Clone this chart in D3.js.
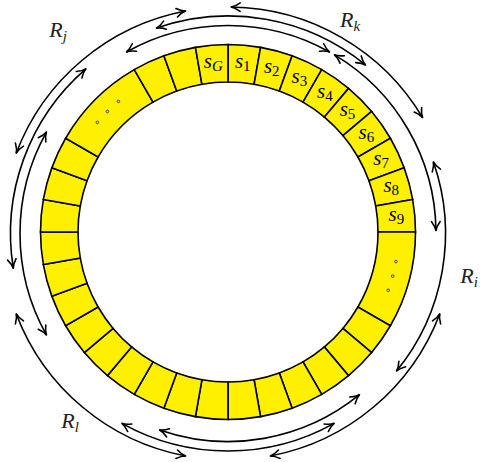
<!DOCTYPE html>
<html><head><meta charset="utf-8">
<script src="https://cdn.jsdelivr.net/npm/d3@7"></script>
<style>html,body{margin:0;padding:0;background:#fff;} svg{display:block;}</style>
</head><body>
<script>
// ---------------- data ----------------
const slotCount = 36;
// boundaries between ring cells (in slot units, 1 slot = 1/36 turn)
const cellEdges = [0,1,2,3,4,5,6,7,8,9,12,13,14,15,16,17,18,19,20,21,22,23,24,25,26,27,28,29,30,33,34,35,36];
// cell labels
const cellLabelBase = ["s","s","s","s","s","s","s","s","s","s"];
const cellLabelSub  = ["G","1","2","3","4","5","6","7","8","9"];
const cellLabelSlot = [35,0,1,2,3,4,5,6,7,8];
// ellipsis dots
const ellipsisSlots = [10,10.5,11,31,31.5,32];
// double-headed range arrows: level (0 inner .. 2 outer), from slot, to slot
const arrowLevel = [0,0,0,0, 1,1,1,1, 2,2,2,2];
const arrowFrom  = [-3,3,14,24, -2,7,15,26, 0,11,19,29];
const arrowTo    = [3,9,20,30, 4,13,21,32, 6,17,25,35];
// range labels
const rangeBase = ["R","R","R","R"];
const rangeSub  = ["k","i","l","j"];

// ---------------- layout ----------------
const W = 480, H = 462;
const L = {
  cx: 228, cy: 232, rIn: 150, rOut: 187.5, rLabel: 169, rDots: 170.5,
  arcCy: 233.5, levelR: [208, 217.5, 226.5], insetDeg: 0.8,
  rangePos: { k:[350,20], i:[469,276], l:[70,421], j:[58,30] },
  yellow: "#fff000"
};
const serif = "'Liberation Serif','DejaVu Serif',serif";

const ang = d3.scaleLinear().domain([0, slotCount]).range([0, 2*Math.PI]);

const svg = d3.select("body").append("svg").attr("width", W).attr("height", H);

// ring cells
const cells = d3.pairs(cellEdges);
const arcGen = d3.arc().innerRadius(L.rIn).outerRadius(L.rOut);
svg.append("g").attr("transform", `translate(${L.cx},${L.cy})`)
  .selectAll("path").data(cells).join("path")
  .attr("d", d => arcGen({startAngle: ang(d[0]), endAngle: ang(d[1])}))
  .attr("fill", L.yellow).attr("stroke", "#000").attr("stroke-width", 1.6)
  .attr("stroke-linejoin", "miter");

// cell labels
const polar = (a, r, cy = L.cy) => [L.cx + r*Math.sin(a), cy - r*Math.cos(a)];
const lab = svg.append("g");
cellLabelSlot.forEach((s, i) => {
  const [x, y] = polar(ang(s + 0.5), L.rLabel);
  const t = lab.append("text").attr("x", x).attr("y", y + 4)
    .attr("text-anchor", "middle").attr("font-family", serif).attr("font-size", 21);
  t.append("tspan").attr("font-style", "italic").text(cellLabelBase[i]);
  const isDigit = /\d/.test(cellLabelSub[i]);
  t.append("tspan").attr("font-size", 15).attr("dy", 3)
    .attr("font-style", isDigit ? "normal" : "italic").text(cellLabelSub[i]);
});

// ellipsis dots
svg.append("g").selectAll("circle").data(ellipsisSlots).join("circle")
  .attr("cx", d => polar(ang(d), L.rDots)[0])
  .attr("cy", d => polar(ang(d), L.rDots)[1])
  .attr("r", 1.3).attr("fill", "none").attr("stroke", "#000").attr("stroke-width", 0.7);

// arrows
const inset = L.insetDeg * Math.PI / 180;
const ag = svg.append("g").attr("fill", "none").attr("stroke", "#000")
  .attr("stroke-width", 1.6).attr("stroke-linecap", "round");
function head(tip, dir) {
  const n = [-dir[1], dir[0]];
  const Lh = 9, Wh = 4.3;
  const back = [tip[0] - Lh*dir[0], tip[1] - Lh*dir[1]];
  const p1 = [back[0] + Wh*n[0], back[1] + Wh*n[1]];
  const p2 = [back[0] - Wh*n[0], back[1] - Wh*n[1]];
  const c1 = [tip[0] - 0.45*Lh*dir[0] + 0.15*Wh*n[0], tip[1] - 0.45*Lh*dir[1] + 0.15*Wh*n[1]];
  const c2 = [tip[0] - 0.45*Lh*dir[0] - 0.15*Wh*n[0], tip[1] - 0.45*Lh*dir[1] - 0.15*Wh*n[1]];
  return `M${p1}Q${c1} ${tip}Q${c2} ${p2}`;
}
arrowFrom.forEach((f, i) => {
  const r = L.levelR[arrowLevel[i]];
  const a0 = ang(f) + inset, a1 = ang(arrowTo[i]) - inset;
  const p = d3.path();
  p.arc(L.cx, L.arcCy, r, a0 - Math.PI/2, a1 - Math.PI/2);
  ag.append("path").attr("d", p.toString());
  const t0 = polar(a0, r, L.arcCy), t1 = polar(a1, r, L.arcCy);
  ag.append("path").attr("d", head(t0, [-Math.cos(a0), -Math.sin(a0)]));
  ag.append("path").attr("d", head(t1, [Math.cos(a1), Math.sin(a1)]));
});

// range labels
rangeSub.forEach((s, i) => {
  const [x, y] = L.rangePos[s];
  const t = svg.append("text").attr("x", x).attr("y", y + 7)
    .attr("text-anchor", "middle").attr("font-family", serif).attr("font-size", 22)
    .attr("fill", "#222");
  t.append("tspan").attr("font-style", "italic").text(rangeBase[i]);
  t.append("tspan").attr("font-style", "italic").attr("font-size", 15).attr("dy", 4).text(s);
});
</script>
</body></html>
